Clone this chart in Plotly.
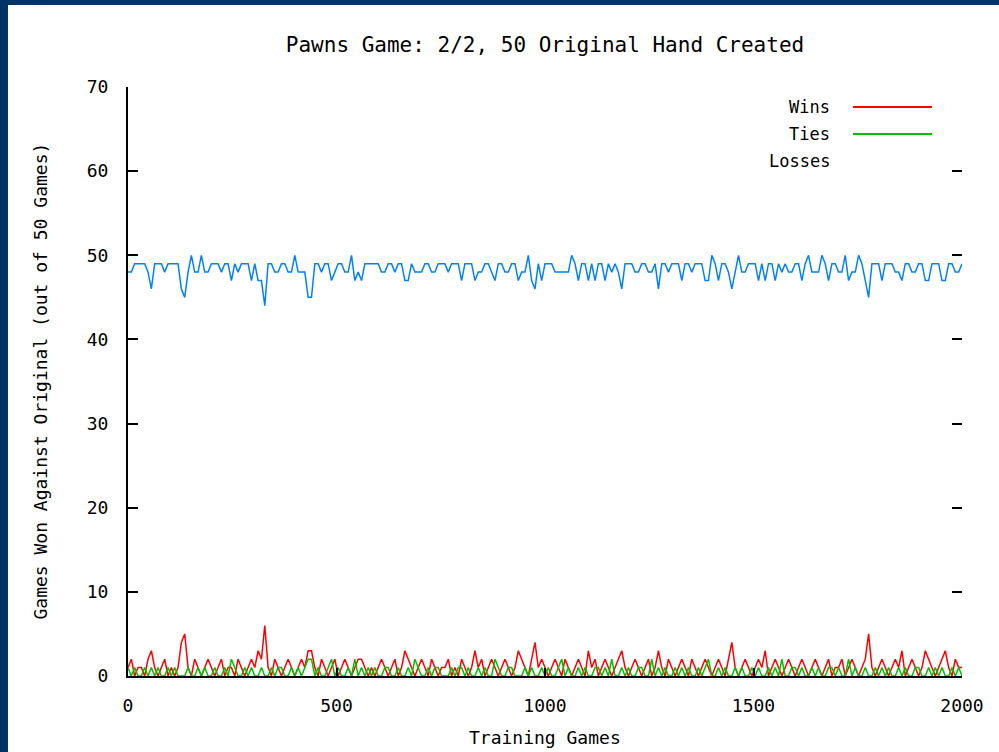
import plotly.graph_objects as go

# ---------------- data ----------------
games = list(range(0, 2001, 8))  # training games (251 samples)

wins = [
    1,2,0,1,1,0,2,3,1,0,1,2,0,1,0,1,4,5,1,0,2,1,0,1,2,
    1,0,1,2,0,1,1,0,2,1,0,1,2,1,3,2,6,1,0,2,1,0,1,2,1,
    0,1,2,1,3,3,1,0,2,1,0,1,2,0,1,2,1,0,1,2,2,1,0,1,0,
    1,2,1,0,1,2,0,1,3,2,1,0,1,2,1,0,2,1,0,1,1,2,0,1,0,
    2,1,0,1,3,1,2,0,1,2,1,0,1,2,1,0,1,3,2,1,0,2,4,1,2,
    1,0,1,2,1,0,2,1,0,1,2,1,0,3,1,2,0,1,2,1,0,1,2,3,1,
    0,1,2,1,0,1,2,0,1,3,1,0,2,1,0,1,2,1,0,2,1,0,1,2,1,
    0,1,2,1,0,2,4,1,0,1,2,1,0,1,2,1,3,0,1,2,1,0,1,2,1,
    0,1,2,1,0,1,2,1,0,1,2,0,1,1,2,0,1,2,1,0,1,2,5,1,0,
    1,2,1,0,1,2,1,3,0,1,2,1,0,1,3,2,1,0,1,2,3,1,0,2,1,
    1,
]

ties = [
    1,0,1,0,0,1,0,1,0,1,0,0,1,0,1,0,0,0,1,0,0,1,0,1,0,
    0,1,0,0,1,0,2,1,0,0,1,0,1,0,0,1,0,0,1,0,1,1,0,0,1,
    0,1,0,1,2,2,0,1,0,0,1,2,0,1,0,0,1,0,2,0,1,0,1,0,1,
    0,0,1,1,0,0,1,0,0,1,0,2,1,0,0,1,0,1,1,0,0,0,1,0,1,
    1,0,1,0,0,1,0,1,0,0,2,1,0,0,1,1,0,0,0,1,0,1,0,0,1,
    0,1,0,0,1,2,0,1,0,0,1,0,1,0,0,1,1,0,1,0,2,0,0,1,0,
    1,0,0,1,1,0,0,2,0,1,0,1,0,0,1,0,1,0,1,0,0,1,0,1,2,
    0,0,1,0,1,0,0,1,0,1,0,0,1,0,1,0,0,1,0,1,0,2,0,0,1,
    1,0,1,0,0,1,0,1,0,0,1,1,0,1,0,0,2,0,1,0,0,1,0,0,1,
    0,1,0,1,0,0,1,0,1,0,0,1,1,0,0,1,0,1,0,1,0,0,1,0,1,
    0,
]

losses = [
    48,48,49,49,49,49,48,46,49,49,49,48,49,49,49,49,46,45,48,50,48,48,50,48,48,
    49,49,49,48,49,49,47,49,48,49,49,49,47,49,47,47,44,49,49,48,48,49,49,48,48,
    50,48,48,48,45,45,49,49,48,49,49,47,48,49,49,48,48,50,47,48,47,49,49,49,49,
    49,48,48,49,49,48,49,49,47,47,49,48,48,48,49,49,48,48,49,49,49,48,49,49,49,
    47,49,49,49,47,48,48,49,49,48,47,49,49,48,48,49,49,47,48,48,50,47,46,49,47,
    49,49,49,48,48,48,48,48,50,49,47,49,49,47,49,47,49,49,47,49,48,49,48,46,49,
    49,49,48,48,49,49,48,48,49,46,49,49,48,49,49,49,47,49,49,48,49,49,49,47,47,
    50,49,47,49,49,48,46,48,50,48,48,49,49,49,47,49,47,49,49,47,49,48,49,48,48,
    49,49,47,49,50,48,48,48,50,49,47,49,49,48,48,50,47,48,48,50,49,47,45,49,49,
    49,47,49,49,49,48,48,47,49,49,48,48,49,49,47,47,49,49,49,47,47,49,49,48,48,
    49,
]

series_names = ["Wins", "Ties", "Losses"]
series_colors = ["#ff0000", "#00c000", "#0080ff"]
x_ticks = [0, 500, 1000, 1500, 2000]
y_ticks = [0, 10, 20, 30, 40, 50, 60, 70]

title_text = "Pawns Game: 2/2, 50 Original Hand Created"
x_title = "Training Games"
y_title = "Games Won Against Original (out of 50 Games)"

FONT = "DejaVu Sans Mono"

# ---------------- figure ----------------
fig = go.Figure()
for name, vals, col in zip(series_names, [wins, ties, losses], series_colors):
    fig.add_trace(go.Scatter(x=games, y=vals, mode="lines", name=name,
                             line=dict(color=col, width=1.5), showlegend=False))

# dummy trace so the right-hand mirrored tick axis is drawn
fig.add_trace(go.Scatter(x=[None], y=[None], yaxis="y2", showlegend=False,
                         hoverinfo="skip"))

# legend (gnuplot style: text on the left, sample line on the right)
leg_y = [0.966, 0.9202, 0.8744]
for name, col, yy in zip(series_names, series_colors, leg_y):
    fig.add_annotation(xref="paper", yref="paper", x=0.8441, y=yy, text=name,
                       showarrow=False, xanchor="right", yanchor="middle",
                       font=dict(family=FONT, size=17, color="black"))
    if name != "Losses":
        fig.add_shape(type="line", xref="paper", yref="paper",
                      x0=0.8693, x1=0.964, y0=yy, y1=yy,
                      line=dict(color=col, width=2))

# white panel over the dark blue page
fig.add_shape(type="rect", xref="paper", yref="paper",
              x0=-0.1439, x1=1.05, y0=-0.135, y1=1.1392,
              fillcolor="white", line=dict(width=0), layer="below")

# axis titles
fig.add_annotation(xref="paper", yref="paper", x=0.5, y=-0.104, text=x_title,
                   showarrow=False, xanchor="center", yanchor="middle",
                   font=dict(family=FONT, size=18, color="black"))
fig.add_annotation(xref="paper", yref="paper", x=-0.1055, y=0.5, text=y_title,
                   showarrow=False, textangle=-90, xanchor="center", yanchor="middle",
                   font=dict(family=FONT, size=18, color="black"))

fig.update_layout(
    width=999, height=752,
    margin=dict(l=128, r=37, t=87, b=76, pad=0),
    paper_bgcolor="#003366",
    plot_bgcolor="rgba(0,0,0,0)",
    font=dict(family=FONT, size=18, color="black"),
    title=dict(text=title_text, x=0.5, xref="paper", xanchor="center",
               y=1 - 45 / 752, yref="container", yanchor="middle",
               font=dict(family=FONT, size=21, color="black")),
    xaxis=dict(range=[0, 2000], tickvals=x_ticks, ticks="inside", ticklen=8,
               tickwidth=1.5, tickcolor="black", showline=True, linewidth=2,
               linecolor="black", showgrid=False, zeroline=False,
               ticklabelstandoff=12),
    yaxis=dict(range=[0, 70], tickvals=y_ticks, ticks="inside", ticklen=10,
               tickwidth=1.5, tickcolor="black", showline=True, linewidth=2,
               linecolor="black", showgrid=False, zeroline=False,
               ticklabelstandoff=14),
    yaxis2=dict(range=[0, 70], tickvals=y_ticks, overlaying="y", side="right",
                ticks="inside", ticklen=10, tickwidth=1.5, tickcolor="black",
                showticklabels=False, showline=False, showgrid=False,
                zeroline=False),
)

fig.write_html("out.html")
